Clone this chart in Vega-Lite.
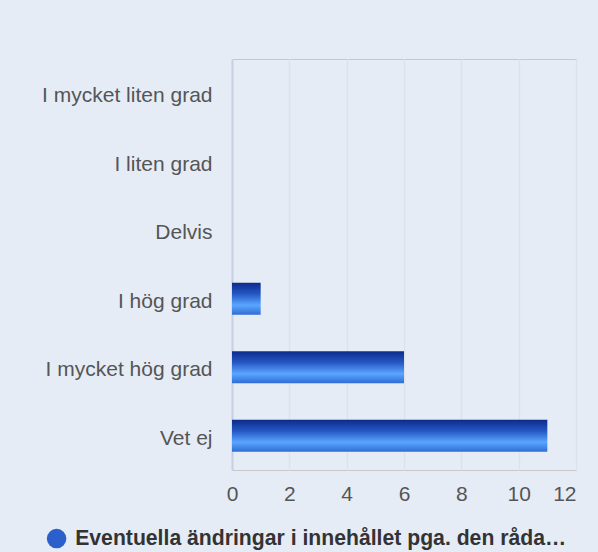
{
  "$schema": "https://vega.github.io/schema/vega-lite/v6.json",
  "autosize": "none",
  "width": 344,
  "height": 411,
  "padding": {"left": 232, "top": 59, "right": 22, "bottom": 82},
  "background": "#e5ecf6",
  "config": {
    "font": "Liberation Sans",
    "view": {"stroke": "#c8c8c8", "strokeWidth": 1}
  },
  "data": {
    "values": [
      {"category": "I mycket liten grad", "value": 0, "series": "Eventuella ändringar i innehållet pga. den råda…"},
      {"category": "I liten grad", "value": 0, "series": "Eventuella ändringar i innehållet pga. den råda…"},
      {"category": "Delvis", "value": 0, "series": "Eventuella ändringar i innehållet pga. den råda…"},
      {"category": "I hög grad", "value": 1, "series": "Eventuella ändringar i innehållet pga. den råda…"},
      {"category": "I mycket hög grad", "value": 6, "series": "Eventuella ändringar i innehållet pga. den råda…"},
      {"category": "Vet ej", "value": 11, "series": "Eventuella ändringar i innehållet pga. den råda…"}
    ]
  },
  "encoding": {
    "y": {
      "field": "category",
      "type": "nominal",
      "sort": null,
      "scale": {"paddingInner": 0.53, "paddingOuter": 0.265},
      "axis": {
        "title": null,
        "ticks": false,
        "labelFontSize": 21,
        "labelColor": "#555555",
        "labelPadding": 20,
        "labelLimit": 300,
        "labelOffset": 3,
        "domainColor": "#c5d0e8",
        "domainWidth": 2
      }
    },
    "x": {
      "field": "value",
      "type": "quantitative",
      "scale": {"domain": [0, 12], "nice": false},
      "axis": {
        "title": null,
        "values": [0, 2, 4, 6, 8, 10, 12],
        "ticks": false,
        "domain": false,
        "labelFlush": false,
        "labelAlign": {"expr": "datum.value == 12 ? 'right' : 'center'"},
        "labelFontSize": 21,
        "labelColor": "#555555",
        "labelPadding": 13,
        "gridColor": "#dde1e8",
        "gridWidth": 1.5
      }
    }
  },
  "layer": [
    {
      "mark": {
        "type": "bar",
        "fill": {"gradient": "linear", "x1": 0, "y1": 0, "x2": 0, "y2": 1,
          "stops": [
            {"offset": 0, "color": "#0c2a8a"},
            {"offset": 0.35, "color": "#2457c4"},
            {"offset": 0.7, "color": "#5aa6ff"},
            {"offset": 1, "color": "#2f6cd4"}
          ]}
      }
    },
    {
      "mark": {"type": "point", "filled": true, "opacity": 0, "shape": "circle"},
      "encoding": {
        "color": {
          "field": "series",
          "type": "nominal",
          "scale": {"range": ["#2a5fcc"]},
          "legend": {
            "title": null,
            "orient": "none",
            "legendX": -186,
            "legendY": 469,
            "symbolType": "circle",
            "symbolSize": 380,
            "symbolStrokeWidth": 0,
            "symbolOpacity": 1,
            "labelFontSize": 21.2,
            "labelFontWeight": "bold",
            "labelColor": "#333333",
            "labelLimit": 700,
            "labelOffset": 8
          }
        }
      }
    }
  ]
}
